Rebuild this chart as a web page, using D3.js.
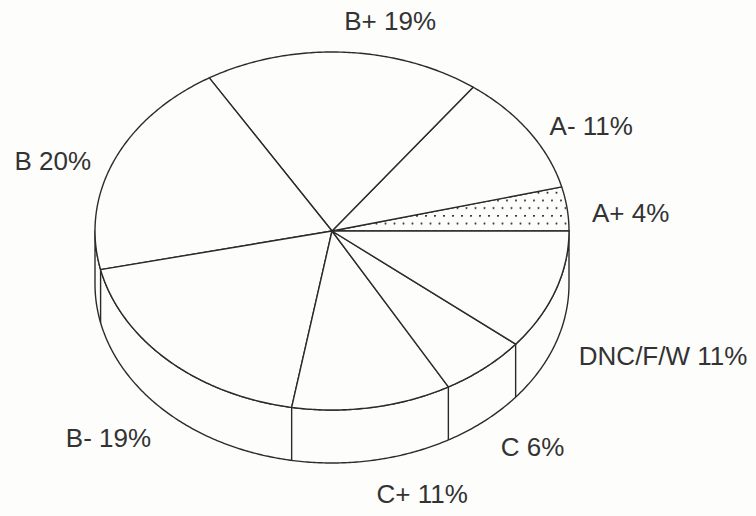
<!DOCTYPE html>
<html>
<head>
<meta charset="utf-8">
<script src="https://cdn.jsdelivr.net/npm/d3@7"></script>
<style>
  html, body { margin: 0; padding: 0; background: #fdfdfb; }
  svg { display: block; }
  text { font-family: "Liberation Sans", Arial, sans-serif; fill: #333333; }
</style>
</head>
<body>
<svg id="chart" width="756" height="516"></svg>
<script>
// ---- data ----
const categories = ["A+", "A-", "B+", "B", "B-", "C+", "C", "DNC/F/W"];
const values = [4, 11, 19, 20, 19, 11, 6, 11];   // percent of students
const patterned = ["A+"];                          // slices drawn with stipple

// ---- layout ----
const W = 756, H = 516;
const cx = 332, cy = 231, rx = 237, ry = 179, depth = 53;
const ink = "#2b2b2b", sw = 1.4;

const svg = d3.select("#chart");
svg.append("rect").attr("width", W).attr("height", H).attr("fill", "#fdfdfb");

const defs = svg.append("defs");
const pat = defs.append("pattern")
  .attr("id", "dots").attr("patternUnits", "userSpaceOnUse")
  .attr("width", 9).attr("height", 15.4).attr("x", 2).attr("y", cy - 0.6);
pat.append("rect").attr("width", 9).attr("height", 15.4).attr("fill", "#fdfdfb");
pat.append("circle").attr("cx", 1).attr("cy", 0.8).attr("r", 1.05).attr("fill", "#333");
pat.append("circle").attr("cx", 5.5).attr("cy", 8.5).attr("r", 1.05).attr("fill", "#333");

// angle (math convention, counter-clockwise from east) -> point on ellipse
const pt = (t, dz = 0) => [cx + rx * Math.cos(t), cy - ry * Math.sin(t) + dz];
const sample = (t0, t1, dz = 0) => {
  const n = Math.max(2, Math.ceil(Math.abs(t1 - t0) / 0.01));
  return d3.range(n + 1).map(i => pt(t0 + (t1 - t0) * i / n, dz));
};
const line = d3.line();

const arcs = d3.pie().sort(null).value(d => d)(values)
  .map((a, i) => ({ ...a, cat: categories[i] }));

// ---- side wall (front half) ----
const sidePts = sample(Math.PI, 2 * Math.PI).concat(sample(2 * Math.PI, Math.PI, depth));
svg.append("path").attr("d", line(sidePts) + "Z")
  .attr("fill", "#fdfdfb").attr("stroke", ink).attr("stroke-width", sw)
  .attr("stroke-linejoin", "round");

// vertical edges at slice boundaries on the front
arcs.forEach(a => {
  const b = a.endAngle;
  if (b > Math.PI + 1e-6 && b < 2 * Math.PI - 1e-6) {
    svg.append("path").attr("d", line([pt(b), pt(b, depth)]))
      .attr("stroke", ink).attr("stroke-width", sw).attr("fill", "none");
  }
});

// ---- top face slices ----
svg.append("g").selectAll("path").data(arcs).join("path")
  .attr("d", a => line([[cx, cy]].concat(sample(a.startAngle, a.endAngle))) + "Z")
  .attr("fill", a => patterned.includes(a.cat) ? "url(#dots)" : "#fdfdfb")
  .attr("stroke", ink).attr("stroke-width", sw).attr("stroke-linejoin", "round");

// ---- labels ----
const lrx = 262, lryUp = 211, lryDown = 213;
svg.append("g").selectAll("text").data(arcs).join("text")
  .each(function (a) {
    const m = (a.startAngle + a.endAngle) / 2;
    const c = Math.cos(m), s = Math.sin(m);
    const x = cx + lrx * c;
    const y = s >= 0 ? cy - lryUp * Math.pow(s, 1.18) : cy - lryDown * s + depth;
    d3.select(this).attr("x", x).attr("y", y).attr("dy", "0.36em")
      .attr("text-anchor", c >= 0 ? "start" : "end");
  })
  .attr("font-size", 26)
  .text((a, i) => `${a.cat} ${values[i]}%`);
</script>
</body>
</html>
